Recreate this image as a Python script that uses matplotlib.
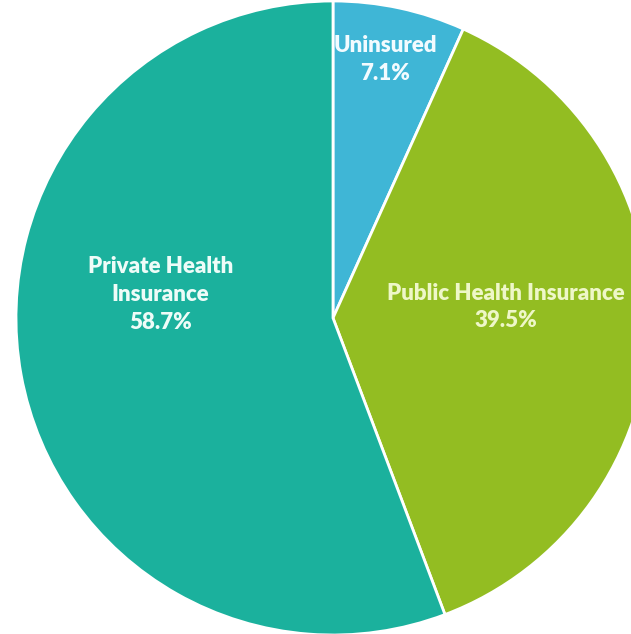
import matplotlib
matplotlib.use("Agg")
import matplotlib.pyplot as plt

categories = ["Uninsured", "Public Health Insurance", "Private Health\nInsurance"]
shares = [7.1, 39.5, 58.7]
colors = ["#3fb6d6", "#93bd22", "#1bb19d"]
text_colors = ["#f2fbff", "#eef7c8", "#eefcf8"]
# label anchor points in axes data units (pie radius = 1)
label_xy = [(0.165, 0.815), (0.545, 0.035), (-0.545, 0.075)]

fig = plt.figure(figsize=(6.31, 6.34), dpi=100)
fig.patch.set_facecolor("white")
R = 317
cx, cy = 333, 634 - 318
ax = fig.add_axes([(cx - R) / 631, (cy - R) / 634, 2 * R / 631, 2 * R / 634])
ax.axis("off")

ax.pie(shares, colors=colors, startangle=90, counterclock=False, radius=1,
       center=(0, 0), frame=False,
       wedgeprops=dict(edgecolor="white", linewidth=2.0))
ax.set_xlim(-1, 1)
ax.set_ylim(-1, 1)
ax.set_aspect("equal")

for name, val, (x, y), tc in zip(categories, shares, label_xy, text_colors):
    ax.text(x, y, f"{name}\n{val:.1f}%", ha="center", va="center",
            color=tc, fontsize=16, fontweight="heavy", family="Lato",
            linespacing=1.4)

fig.savefig("out.png", dpi=100)
